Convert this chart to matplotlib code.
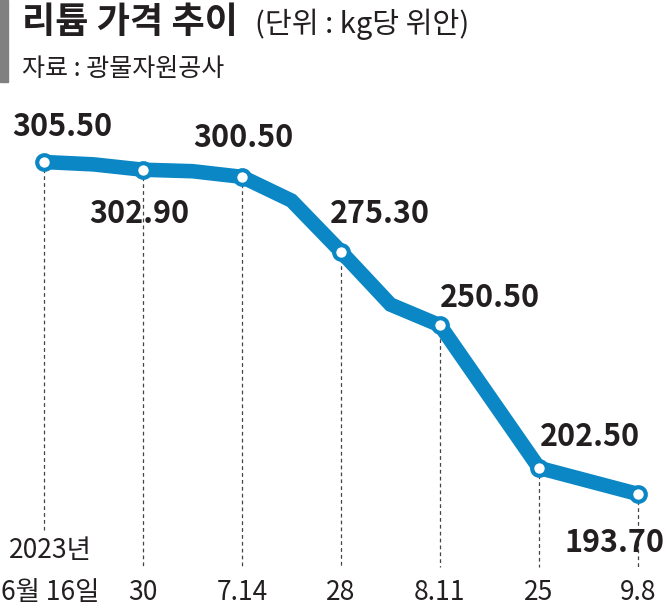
import matplotlib.pyplot as plt
import matplotlib.patches as mpatches
import pandas as pd

plt.rcParams['font.family'] = ['Noto Sans CJK KR', 'DejaVu Sans']

# weekly price points (kg당 위안)
dates = ["2023-06-16", "2023-06-23", "2023-06-30", "2023-07-07", "2023-07-14",
         "2023-07-21", "2023-07-28", "2023-08-04", "2023-08-11", "2023-08-25",
         "2023-09-08"]
prices = [305.5, 304.7, 302.9, 302.4, 300.5, 292.5, 275.3, 257.5, 250.5, 202.5, 193.7]

# points that get a marker, value label and date tick
marked_dates = ["2023-06-16", "2023-06-30", "2023-07-14", "2023-07-28",
                "2023-08-11", "2023-08-25", "2023-09-08"]
marked_prices = [305.5, 302.9, 300.5, 275.3, 250.5, 202.5, 193.7]
value_labels = ["305.50", "302.90", "300.50", "275.30", "250.50", "202.50", "193.70"]
tick_labels = ["6월 16일", "30", "7.14", "28", "8.11", "25", "9.8"]
label_offsets = [(13, 25), (-3, -32), (1, 28), (28, 27), (36, 20), (37, 22), (-17, -35)]

BLUE = "#0a87c4"
INK = "#231f20"

start = pd.Timestamp(dates[0])
x = [(pd.Timestamp(d) - start).days for d in dates]
xm = [(pd.Timestamp(d) - start).days for d in marked_dates]

fig = plt.figure(figsize=(6.67, 6.07), dpi=100)
ax = fig.add_axes([0, 0, 1, 1])
ax.set_xlim(-6.22, 88.1)
ax.set_ylim(155.66, 360.05)
ax.axis("off")

# dashed guides
for i, (xi, yi) in enumerate(zip(xm, marked_prices)):
    bottom = 181.6 if i == 0 else 169.1
    ax.plot([xi, xi], [yi, bottom], ls=(0, (3, 2.5)), lw=0.9, color="#444444", zorder=1)

ax.plot(x, prices, color=BLUE, lw=10.5, solid_joinstyle="miter", solid_capstyle="butt", zorder=2)
ax.plot(xm, marked_prices, "o", ms=10.5, mfc="white", mec=BLUE, mew=3, zorder=3)

for xi, yi, lab, off in zip(xm, marked_prices, value_labels, label_offsets):
    ax.annotate(lab, (xi, yi), xytext=off, textcoords="offset points",
                ha="center", va="center", fontsize=22, fontweight="bold",
                color=INK, zorder=4)

for i, (xi, lab) in enumerate(zip(xm, tick_labels)):
    xt = xi + 0.9 if i == 0 else xi
    ax.text(xt, 1 - 592 / 607, lab, transform=ax.get_xaxis_transform(),
            ha="center", va="center", fontsize=19, color=INK)
ax.text(xm[0] + 0.9, 1 - 551 / 607, "2023년", transform=ax.get_xaxis_transform(),
        ha="center", va="center", fontsize=19, color=INK)

# header
fig.patches.append(mpatches.Rectangle((0, 1 - 82 / 607), 8 / 667, 82 / 607,
                                      transform=fig.transFigure, color="#808080"))
fig.text(22 / 667, 1 - 22 / 607, "리튬 가격 추이", fontsize=26, fontweight="bold",
         color=INK, ha="left", va="center")
fig.text(255 / 667, 1 - 24 / 607, "(단위 : kg당 위안)", fontsize=21,
         color=INK, ha="left", va="center")
fig.text(22 / 667, 1 - 69 / 607, "자료 : 광물자원공사", fontsize=18,
         color=INK, ha="left", va="center")

fig.savefig("out.png", dpi=100)
